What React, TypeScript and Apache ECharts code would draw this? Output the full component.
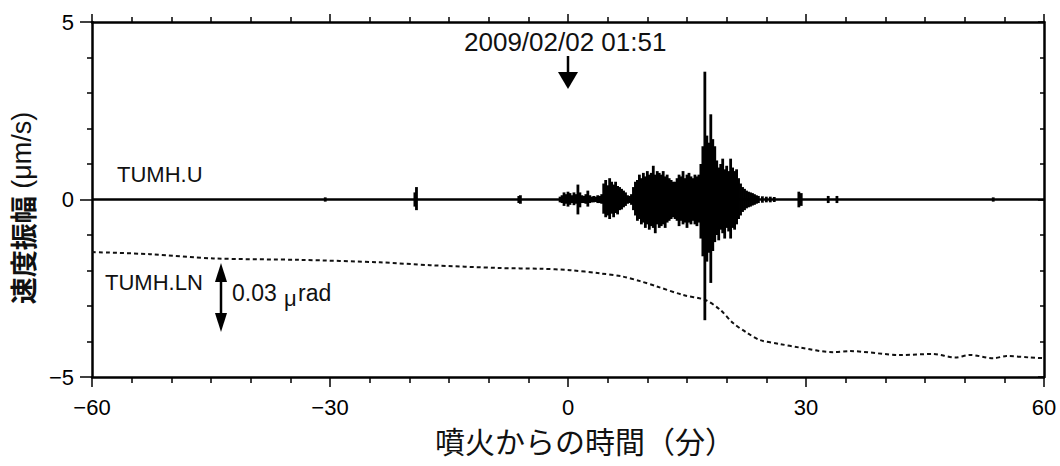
import React, { useEffect, useRef } from "react";
import * as echarts from "echarts";

// ---- data ----
const xRange = [-60, 60];
const yRange = [-5, 5];

// TUMH.U seismogram envelope, active part: bins from t=-1.0 min, step 0.25 min
const waveStart = -1.0;
const waveStep = 0.25;
const waveHi = [
  0.08, 0.12, 0.2, 0.15, 0.22, 0.18, 0.12, 0.2, 0.15, 0.42, 0.2, 0.12,
  0.1, 0.15, 0.25, 0.12, 0.08, 0.1, 0.08, 0.12, 0.1, 0.15, 0.45, 0.55,
  0.4, 0.6, 0.5, 0.42, 0.5, 0.38, 0.35, 0.3, 0.25, 0.2, 0.12, 0.1,
  0.15, 0.35, 0.5, 0.55, 0.7, 0.6, 0.75, 0.65, 0.8, 0.7, 0.75, 0.95,
  0.7, 0.8, 0.75, 0.7, 0.8, 0.65, 0.7, 0.6, 0.55, 0.5, 0.5, 0.6,
  0.7, 0.65, 0.8, 0.6, 0.7, 0.75, 0.65, 0.6, 0.7, 0.65, 0.7, 1.0,
  1.5, 3.6, 1.8, 1.6, 2.4, 1.7, 1.5, 1.1, 0.9, 1.0, 1.15, 0.85,
  0.95, 0.8, 1.15, 0.9, 0.8, 0.85, 0.6, 0.45, 0.35, 0.3, 0.25, 0.22,
  0.2, 0.18, 0.15, 0.12, 0.1,
];
const waveLo = [
  -0.08, -0.1, -0.18, -0.12, -0.2, -0.15, -0.1, -0.16, -0.12, -0.42, -0.22, -0.1,
  -0.1, -0.12, -0.2, -0.1, -0.08, -0.08, -0.07, -0.1, -0.1, -0.12, -0.4, -0.5,
  -0.45, -0.55, -0.4, -0.5, -0.38, -0.42, -0.3, -0.28, -0.22, -0.18, -0.12, -0.1,
  -0.15, -0.3, -0.45, -0.6, -0.55, -0.7, -0.65, -0.8, -0.7, -0.85, -0.75, -0.8,
  -0.95, -0.7, -0.8, -0.75, -0.7, -0.8, -0.65, -0.6, -0.55, -0.5, -0.55, -0.6,
  -0.75, -0.6, -0.7, -0.65, -0.8, -0.65, -0.7, -0.6, -0.7, -0.75, -0.65, -1.1,
  -1.6, -3.4, -1.75, -1.5, -2.35, -1.45, -1.2, -1.0, -1.15, -0.85, -0.95, -1.1,
  -0.8, -0.9, -1.1, -0.8, -0.85, -0.7, -0.55, -0.45, -0.35, -0.3, -0.25, -0.22,
  -0.2, -0.17, -0.15, -0.12, -0.1,
];

// isolated small events in the quiet parts
const eventT = [-30.6, -19.3, -19.1, -6.2, -6.0, 24.5, 25.0, 25.5, 26.0, 29.1, 29.4, 32.8, 33.9, 53.6];
const eventHi = [0.06, 0.2, 0.35, 0.1, 0.12, 0.09, 0.08, 0.08, 0.07, 0.22, 0.18, 0.1, 0.1, 0.06];
const eventLo = [-0.06, -0.2, -0.3, -0.1, -0.12, -0.09, -0.08, -0.08, -0.07, -0.22, -0.18, -0.1, -0.1, -0.06];

// TUMH.LN tilt trace (plotted in axis units)
const tiltT = [-60, -52.7, -44.7, -33.8, -23.7, -17.4, -8.6, -3.5, 0.25, 4.0, 6.9, 9.1, 11.2, 14.5, 17.3, 19.2, 20.8, 22.6, 24.2, 26.7, 29.2, 33.4, 35.5, 41.9, 46.0, 48.8, 50.7, 53.6, 55.3, 58.2, 60];
const tiltV = [-1.48, -1.54, -1.66, -1.7, -1.77, -1.85, -1.93, -1.95, -1.99, -2.08, -2.17, -2.3, -2.45, -2.69, -2.83, -3.11, -3.48, -3.76, -3.96, -4.07, -4.17, -4.3, -4.27, -4.38, -4.35, -4.45, -4.38, -4.47, -4.41, -4.45, -4.47];

const labelU = "TUMH.U";
const labelLN = "TUMH.LN";
const scaleText = "0.03";
const eruptionLabel = "2009/02/02 01:51";
const xTitle = "噴火からの時間（分）";
const yTitleJa = "速度振幅";
const yTitleUnit = " (μm/s)";

const minusFmt = (v: number) => String(v).replace("-", "\u2212");

export default function App() {
  const ref = useRef<HTMLDivElement>(null);
  useEffect(() => {
    if (!ref.current) return;
    const chart = echarts.init(ref.current, null, { renderer: "svg" });
    const waveData: number[][] = waveHi.map((h, i) => [waveStart + i * waveStep, h, waveLo[i]]);
    eventT.forEach((t, i) => waveData.push([t, eventHi[i], eventLo[i]]));
    const tiltData = tiltT.map((t, i) => [t, tiltV[i]]);
    const textFont = "'Liberation Sans', Arial, sans-serif";
    const tickFont = textFont;
    const cjkFont = "'Noto Sans CJK JP', sans-serif";
    const lineStyle = { color: "#000", width: 2.5 };

    chart.setOption({
      animation: false,
      backgroundColor: "#fff",
      grid: { left: 92, top: 22, width: 952, height: 355, show: false },
      xAxis: [
        {
          type: "value", min: xRange[0], max: xRange[1], interval: 30, position: "bottom",
          axisLine: { show: true, onZero: false, lineStyle },
          axisTick: { show: true, inside: false, length: 10, lineStyle: { color: "#000", width: 1.5 } },
          minorTick: { show: true, splitNumber: 6, length: 6, lineStyle: { color: "#000", width: 1.5 } },
          splitLine: { show: false },
          axisLabel: { formatter: minusFmt, color: "#000", fontSize: 22, fontFamily: tickFont, margin: 19 },
        },
        {
          type: "value", min: xRange[0], max: xRange[1], interval: 30, position: "top",
          axisLine: { show: true, onZero: false, lineStyle },
          axisTick: { show: true, inside: false, length: 8, lineStyle: { color: "#000", width: 1.5 } },
          minorTick: { show: true, splitNumber: 6, length: 5, lineStyle: { color: "#000", width: 1.5 } },
          splitLine: { show: false },
          axisLabel: { show: false },
        },
      ],
      yAxis: [
        {
          type: "value", min: yRange[0], max: yRange[1], interval: 5, position: "left",
          axisLine: { show: true, onZero: false, lineStyle },
          axisTick: { show: true, inside: false, length: 12, lineStyle: { color: "#000", width: 1.5 } },
          minorTick: { show: true, splitNumber: 5, length: 5, lineStyle: { color: "#000", width: 1.5 } },
          splitLine: { show: false },
          axisLabel: { formatter: minusFmt, color: "#000", fontSize: 22, fontFamily: tickFont, margin: 18 },
        },
        {
          type: "value", min: yRange[0], max: yRange[1], interval: 5, position: "right",
          axisLine: { show: true, onZero: false, lineStyle },
          axisTick: { show: true, inside: true, length: 6, lineStyle: { color: "#000", width: 1.5 } },
          minorTick: { show: true, splitNumber: 5, length: 4, lineStyle: { color: "#000", width: 1.5 } },
          splitLine: { show: false },
          axisLabel: { show: false },
        },
      ],
      series: [
        {
          type: "line",
          data: [[xRange[0], 0], [xRange[1], 0]],
          symbol: "none",
          lineStyle: { color: "#000", width: 2.5 },
          z: 2,
        },
        {
          type: "custom",
          data: waveData,
          encode: { x: 0, y: [1, 2] },
          renderItem: (params: any, api: any) => {
            const t = api.value(0);
            const p1 = api.coord([t, api.value(1)]);
            const p2 = api.coord([t, api.value(2)]);
            return {
              type: "line",
              shape: { x1: p1[0], y1: p1[1], x2: p2[0], y2: p2[1] },
              style: { stroke: "#000", lineWidth: 2.8 },
            };
          },
          z: 3,
        },
        {
          type: "line",
          data: tiltData,
          symbol: "none",
          smooth: 0.3,
          lineStyle: { color: "#111", width: 2, type: [4, 3] },
          z: 2,
        },
      ],
      graphic: [
        {
          type: "text", x: 22, y: 208, rotation: Math.PI / 2,
          style: {
            text: `{c|${yTitleJa}}{l|${yTitleUnit}}`, textAlign: "center", textVerticalAlign: "middle",
            rich: {
              c: { fontSize: 27, fontWeight: "bold", fill: "#111", fontFamily: cjkFont },
              l: { fontSize: 27, fill: "#111", fontFamily: textFont },
            },
          },
        },
        {
          type: "text", x: 585, y: 440,
          style: { text: xTitle, fontSize: 30, fontFamily: cjkFont, fill: "#111", textAlign: "center", textVerticalAlign: "middle" },
        },
        { type: "text", left: 117, top: 163, style: { text: labelU, fontSize: 22, fontFamily: textFont, fill: "#111" } },
        { type: "text", left: 105, top: 271, style: { text: labelLN, fontSize: 22, fontFamily: textFont, fill: "#111" } },
        { type: "text", left: 232, top: 281, style: { text: scaleText, fontSize: 23, fontFamily: textFont, fill: "#111" } },
        { type: "text", left: 284, top: 287, style: { text: "μ", fontSize: 22, fontFamily: textFont, fill: "#111" } },
        { type: "text", left: 298, top: 281, style: { text: "rad", fontSize: 23, fontFamily: textFont, fill: "#111" } },
        { type: "line", shape: { x1: 221, y1: 278, x2: 221, y2: 316 }, style: { stroke: "#000", lineWidth: 2.5 } },
        { type: "polygon", shape: { points: [[221, 263], [215, 282], [227, 282]] }, style: { fill: "#000" } },
        { type: "polygon", shape: { points: [[221, 332], [215, 313], [227, 313]] }, style: { fill: "#000" } },
        { type: "text", left: 464, top: 29, style: { text: eruptionLabel, fontSize: 26, fontFamily: textFont, fill: "#111" } },
        { type: "line", shape: { x1: 568, y1: 56, x2: 568, y2: 76 }, style: { stroke: "#000", lineWidth: 2.5 } },
        { type: "polygon", shape: { points: [[568, 89], [558, 72], [578, 72]] }, style: { fill: "#000" } },
      ],
    });
    return () => chart.dispose();
  }, []);
  return <div ref={ref} style={{ position: "fixed", left: 0, top: 0, width: 1060, height: 466, background: "#fff" }} />;
}
